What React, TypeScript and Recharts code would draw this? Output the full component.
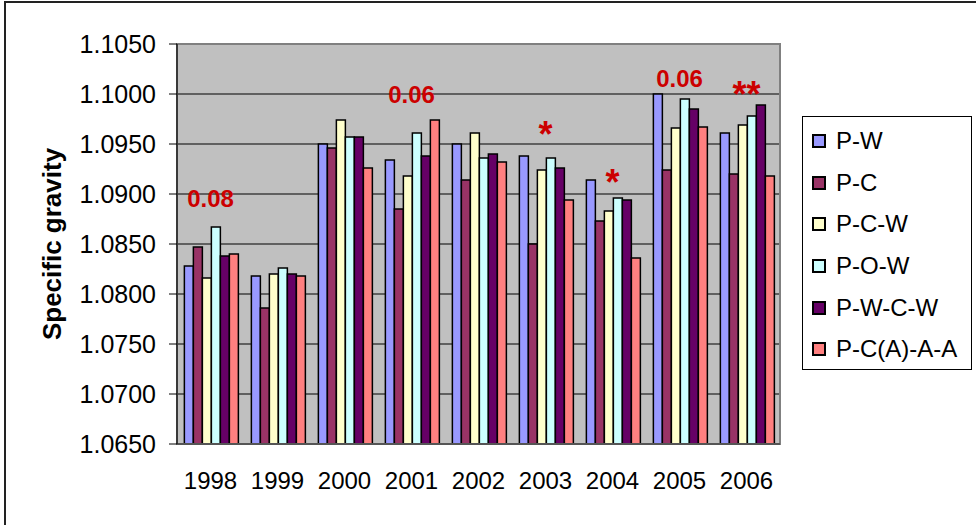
import React from 'react';
import {
  BarChart,
  Bar,
  XAxis,
  YAxis,
  CartesianGrid,
  Legend,
  ReferenceDot,
  ReferenceArea,
} from 'recharts';

const YEARS = ['1998', '1999', '2000', '2001', '2002', '2003', '2004', '2005', '2006'];

const P_W = [1.0828, 1.0818, 1.095, 1.0934, 1.095, 1.0938, 1.0914, 1.1, 1.0961];
const P_C = [1.0847, 1.0786, 1.0946, 1.0885, 1.0914, 1.085, 1.0873, 1.0924, 1.092];
const P_C_W = [1.0816, 1.082, 1.0974, 1.0918, 1.0961, 1.0924, 1.0883, 1.0966, 1.0969];
const P_O_W = [1.0867, 1.0826, 1.0957, 1.0961, 1.0936, 1.0936, 1.0896, 1.0995, 1.0978];
const P_W_C_W = [1.0838, 1.082, 1.0957, 1.0938, 1.094, 1.0926, 1.0894, 1.0985, 1.0989];
const P_CA_A_A = [1.084, 1.0818, 1.0926, 1.0974, 1.0932, 1.0894, 1.0836, 1.0967, 1.0918];

const SERIES_NAMES = ['P-W', 'P-C', 'P-C-W', 'P-O-W', 'P-W-C-W', 'P-C(A)-A-A'];
const SERIES_VALUES = [P_W, P_C, P_C_W, P_O_W, P_W_C_W, P_CA_A_A];
const SERIES_COLORS = ['#9999FF', '#993366', '#FFFFCC', '#CCFFFF', '#660066', '#FF8080'];

const Y_TICKS = [1.065, 1.07, 1.075, 1.08, 1.085, 1.09, 1.095, 1.1, 1.105];

// annotation text per year, with the value level where its baseline sits
const ANNOT_YEARS = ['1998', '2001', '2003', '2004', '2005', '2006'];
const ANNOT_TEXTS = ['0.08', '0.06', '*', '*', '0.06', '**'];
const ANNOT_LEVELS = [1.0887, 1.0991, 1.0947, 1.0899, 1.1007, 1.0987];

const FONT = 'Arial, "Liberation Sans", sans-serif';

const data = YEARS.map((year, i) => {
  const row: Record<string, any> = { year };
  SERIES_NAMES.forEach((name, s) => {
    row[name] = SERIES_VALUES[s][i];
  });
  return row;
});

const renderLegend = () => (
  <div
    style={{
      width: 170,
      height: 254,
      boxSizing: 'border-box',
      border: '1px solid #000',
      background: '#fff',
      paddingTop: 3,
      fontFamily: FONT,
    }}
  >
    {SERIES_NAMES.map((name, i) => (
      <div
        key={name}
        style={{
          display: 'flex',
          alignItems: 'center',
          height: 41.7,
          paddingLeft: 9,
        }}
      >
        <span
          style={{
            display: 'inline-block',
            width: 14,
            height: 14,
            boxSizing: 'border-box',
            border: '2px solid #000',
            background: SERIES_COLORS[i],
            marginRight: 10,
            flex: 'none',
          }}
        />
        <span style={{ fontSize: 24, color: '#000', lineHeight: 1, whiteSpace: 'nowrap' }}>{name}</span>
      </div>
    ))}
  </div>
);

const YLabel = (props: any) => {
  return (
    <text
      x={52}
      y={244}
      transform="rotate(-90 52 244)"
      textAnchor="middle"
      dominantBaseline="central"
      fontFamily={FONT}
      fontWeight="bold"
      fontSize={26}
      fill="#000"
    >
      Specific gravity
    </text>
  );
};

const makeAnnot = (text: string) => (props: any) => {
  const vb = props.viewBox || {};
  const isStar = text.indexOf('*') >= 0;
  return (
    <text
      x={vb.x}
      y={vb.y}
      textAnchor="middle"
      fontFamily={FONT}
      fontWeight="bold"
      fontSize={isStar ? 36 : 24}
      fill="#CC0000"
    >
      {text}
    </text>
  );
};

export default function App() {
  return (
    <div
      style={{
        position: 'absolute',
        left: 0,
        top: 0,
        width: 976,
        height: 525,
        overflow: 'hidden',
        background: '#fff',
      }}
    >
      <div
        style={{
          position: 'absolute',
          left: 4,
          top: 1,
          width: 1000,
          height: 600,
          borderTop: '2px solid #222',
          borderLeft: '2px solid #222',
        }}
      />
      <div style={{ position: 'absolute', left: 0, top: 0 }}>
        <BarChart
          width={976}
          height={525}
          data={data}
          margin={{ top: 44, right: 196, bottom: 0, left: 0 }}
          barCategoryGap="11%"
          barGap={0}
        >
          <CartesianGrid
            vertical={false}
            stroke="#000"
            strokeWidth={1}
            fill="#C0C0C0"
            fillOpacity={1}
            horizontalValues={[1.07, 1.075, 1.08, 1.085, 1.09, 1.095, 1.1]}
          />
          <XAxis
            dataKey="year"
            height={81}
            tickLine={false}
            tickSize={0}
            tickMargin={28}
            axisLine={{ stroke: '#555', strokeWidth: 2 }}
            tick={{ fontFamily: FONT, fontSize: 24, fill: '#000' }}
            interval={0}
          />
          <YAxis
            type="number"
            domain={[1.065, 1.105]}
            ticks={Y_TICKS}
            allowDataOverflow
            width={177}
            tickSize={8}
            tickMargin={13}
            tickLine={{ stroke: '#000' }}
            axisLine={{ stroke: '#222', strokeWidth: 1.5 }}
            tickFormatter={(v: number) => v.toFixed(4)}
            tick={{ fontFamily: FONT, fontSize: 25, fill: '#000' }}
            interval={0}
            label={<YLabel />}
          />
          {SERIES_NAMES.map((name, i) => (
            <Bar
              key={name}
              dataKey={name}
              fill={SERIES_COLORS[i]}
              stroke="#000"
              strokeWidth={1.5}
              isAnimationActive={false}
            />
          ))}
          <ReferenceArea
            y1={1.065}
            y2={1.105}
            fill="none"
            stroke="#808080"
            strokeWidth={2}
            ifOverflow="visible"
          />
          {ANNOT_YEARS.map((yr, i) => (
            <ReferenceDot
              key={yr + i}
              x={yr}
              y={ANNOT_LEVELS[i]}
              r={0}
              fill="none"
              stroke="none"
              ifOverflow="visible"
              label={makeAnnot(ANNOT_TEXTS[i])}
            />
          ))}
          <Legend
            layout="vertical"
            align="center"
            verticalAlign="middle"
            content={renderLegend}
            wrapperStyle={{ position: 'absolute', left: 802, top: 116, width: 170, height: 254 }}
          />
        </BarChart>
      </div>
    </div>
  );
}
